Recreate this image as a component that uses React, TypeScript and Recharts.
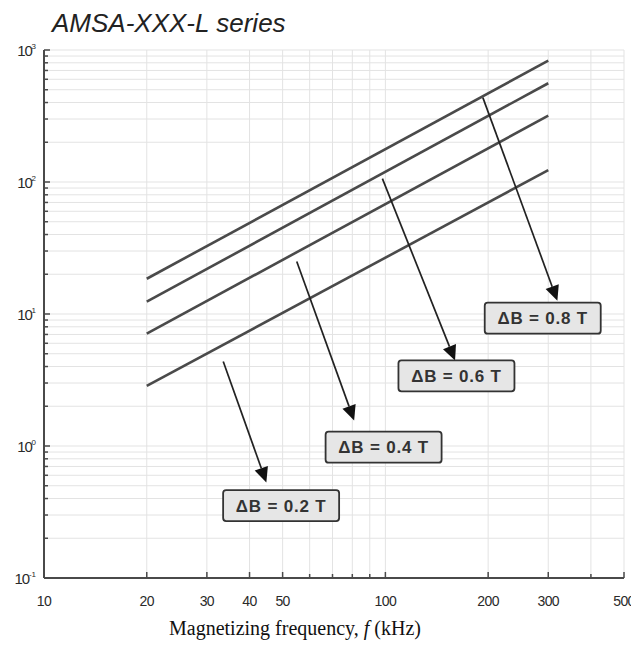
import React from "react";
import {
  LineChart,
  Line,
  XAxis,
  YAxis,
  CartesianGrid,
  ReferenceLine,
  ReferenceDot,
} from "recharts";

// core loss curves, at 20 kHz and 300 kHz
const freqs = [20, 300];
const loss02 = [2.85, 123];
const loss04 = [7.1, 318];
const loss06 = [12.4, 560];
const loss08 = [18.5, 830];

const xTicks = [10, 20, 30, 40, 50, 60, 70, 80, 90, 100, 200, 300, 400, 500];
const xLabels = [10, 20, 30, 40, 50, 100, 200, 300, 500];
const yDecades = [0.1, 1, 10, 100];
const yTicks = [...yDecades.flatMap((d) => [1, 2, 3, 4, 5, 6, 7, 8, 9].map((m) => m * d)), 1000];
const yLabels = [0.1, 1, 10, 100, 1000];

// arrow from (x, y) to (x, y), label box centred at (x, y) - data units
const notes = [
  { text: "ΔB = 0.2 T", from: [33.5, 4.37], to: [44.8, 0.53], box: [49.5, 0.354] },
  { text: "ΔB = 0.4 T", from: [55, 25], to: [81, 1.56], box: [98.8, 0.98] },
  { text: "ΔB = 0.6 T", from: [98, 106], to: [160, 4.44], box: [161.5, 3.4] },
  { text: "ΔB = 0.8 T", from: [193, 436], to: [319, 12.6], box: [289, 9.3] },
];

const rows = freqs.map((f, i) => ({
  f,
  b02: loss02[i],
  b04: loss04[i],
  b06: loss06[i],
  b08: loss08[i],
}));

const AXIS = "#4a4a4a";
const SANS = "'Liberation Sans', Arial, sans-serif";

const isMajorX = (v: number) => xLabels.includes(v);
const isMajorY = (v: number) => yLabels.some((l) => Math.abs(l - v) < 1e-9);

function BottomTick(props: any) {
  const { x, y, payload } = props;
  const major = isMajorX(payload.value);
  return (
    <g>
      <line x1={x} y1={y} x2={x} y2={y - (major ? 6 : 4)} stroke={AXIS} strokeWidth={1.5} />
      {major && (
        <text x={x} y={y + 28} textAnchor="middle" fontSize={14} fill="#2a2a2a" fontFamily={SANS} letterSpacing={-0.6}>
          {payload.value}
        </text>
      )}
    </g>
  );
}

function TopTick(props: any) {
  const { x, y, payload } = props;
  const major = isMajorX(payload.value);
  return <line x1={x} y1={y} x2={x} y2={y + (major ? 6 : 4)} stroke={AXIS} strokeWidth={1.5} />;
}

function LeftTick(props: any) {
  const { x, y, payload } = props;
  const major = isMajorY(payload.value);
  const exp = Math.round(Math.log10(payload.value));
  return (
    <g>
      <line x1={x} y1={y} x2={x + (major ? 6 : 4)} y2={y} stroke={AXIS} strokeWidth={1.5} />
      {major && (
        <text x={x - 8} y={y + 6} textAnchor="end" fontSize={15} fill="#2a2a2a" fontFamily={SANS} letterSpacing={-1.2}>
          10
          <tspan dy={-7} fontSize={8} letterSpacing={0}>
            {exp}
          </tspan>
        </text>
      )}
    </g>
  );
}

function RightTick(props: any) {
  const { x, y, payload } = props;
  const major = isMajorY(payload.value);
  return <line x1={x} y1={y} x2={x - (major ? 6 : 4)} y2={y} stroke={AXIS} strokeWidth={1.5} />;
}

function Arrow(props: any) {
  const { x1, y1, x2, y2 } = props;
  const dx = x2 - x1;
  const dy = y2 - y1;
  const len = Math.sqrt(dx * dx + dy * dy) || 1;
  const ux = dx / len;
  const uy = dy / len;
  const bx = x2 - ux * 15;
  const by = y2 - uy * 15;
  const w = 7;
  return (
    <g>
      <line x1={x1} y1={y1} x2={bx} y2={by} stroke="#222" strokeWidth={1.7} />
      <polygon
        points={`${x2},${y2} ${bx - uy * w},${by + ux * w} ${bx + uy * w},${by - ux * w}`}
        fill="#111"
      />
    </g>
  );
}

function NoteBox({ cx, cy, text }: { cx: number; cy: number; text: string }) {
  const w = 116;
  const h = 31;
  return (
    <g>
      <rect x={cx - w / 2} y={cy - h / 2} width={w} height={h} rx={3} fill="#e6e6e6" stroke="#333" strokeWidth={1.8} />
      <text
        x={cx}
        y={cy + 6}
        textAnchor="middle"
        fontSize={17}
        fontWeight="bold"
        fill="#333"
        fontFamily={SANS}
        letterSpacing={0.8}
      >
        {text}
      </text>
    </g>
  );
}

export default function App() {
  return (
    <div style={{ position: "absolute", left: 0, top: 0, width: 631, height: 645, background: "#fff" }}>
      <div
        style={{
          position: "absolute",
          left: 52,
          top: 10,
          fontFamily: SANS,
          fontStyle: "italic",
          fontSize: 26,
          lineHeight: "26px",
          color: "#222",
          whiteSpace: "nowrap",
        }}
      >
        AMSA-XXX-L series
      </div>
      <LineChart width={631} height={645} data={rows} margin={{ top: 50, right: 7, bottom: 0, left: 4 }}>
        <CartesianGrid stroke="#e3e3e3" strokeWidth={1} />
        <XAxis
          dataKey="f"
          type="number"
          scale="log"
          domain={[10, 500]}
          ticks={xTicks}
          interval={0}
          height={67}
          tickSize={0}
          tickMargin={0}
          tick={<BottomTick />}
          axisLine={{ stroke: AXIS, strokeWidth: 2 }}
          tickLine={false}
        />
        <XAxis
          xAxisId="top"
          orientation="top"
          dataKey="f"
          type="number"
          scale="log"
          domain={[10, 500]}
          ticks={xTicks}
          interval={0}
          height={0}
          tickSize={0}
          tickMargin={0}
          tick={<TopTick />}
          axisLine={{ stroke: AXIS, strokeWidth: 2 }}
          tickLine={false}
        />
        <YAxis
          type="number"
          scale="log"
          domain={[0.1, 1000]}
          ticks={yTicks}
          interval={0}
          width={40}
          tickSize={0}
          tickMargin={0}
          tick={<LeftTick />}
          axisLine={{ stroke: AXIS, strokeWidth: 2 }}
          tickLine={false}
          allowDataOverflow
        />
        <YAxis
          yAxisId="right"
          orientation="right"
          type="number"
          scale="log"
          domain={[0.1, 1000]}
          ticks={yTicks}
          interval={0}
          width={0}
          tickSize={0}
          tickMargin={0}
          tick={<RightTick />}
          axisLine={{ stroke: AXIS, strokeWidth: 2 }}
          tickLine={false}
          allowDataOverflow
        />
        <Line dataKey="b08" stroke="#4a4a4a" strokeWidth={2.6} dot={false} activeDot={false} isAnimationActive={false} />
        <Line dataKey="b06" stroke="#4a4a4a" strokeWidth={2.6} dot={false} activeDot={false} isAnimationActive={false} />
        <Line dataKey="b04" stroke="#4a4a4a" strokeWidth={2.6} dot={false} activeDot={false} isAnimationActive={false} />
        <Line dataKey="b02" stroke="#4a4a4a" strokeWidth={2.6} dot={false} activeDot={false} isAnimationActive={false} />
        {notes.map((n) => (
          <ReferenceLine
            key={"a" + n.text}
            segment={[
              { x: n.from[0], y: n.from[1] },
              { x: n.to[0], y: n.to[1] },
            ]}
            ifOverflow="visible"
            shape={(p: any) => <Arrow {...p} />}
          />
        ))}
        {notes.map((n) => (
          <ReferenceDot
            key={"b" + n.text}
            x={n.box[0]}
            y={n.box[1]}
            r={1}
            ifOverflow="visible"
            shape={(p: any) => <NoteBox cx={p.cx} cy={p.cy} text={n.text} />}
          />
        ))}
      </LineChart>
      <div
        style={{
          position: "absolute",
          left: 169,
          top: 618,
          fontFamily: "'Liberation Serif', 'Times New Roman', serif",
          fontSize: 20,
          lineHeight: "20px",
          color: "#111",
          whiteSpace: "nowrap",
        }}
      >
        Magnetizing frequency, <i>f</i> (kHz)
      </div>
    </div>
  );
}
